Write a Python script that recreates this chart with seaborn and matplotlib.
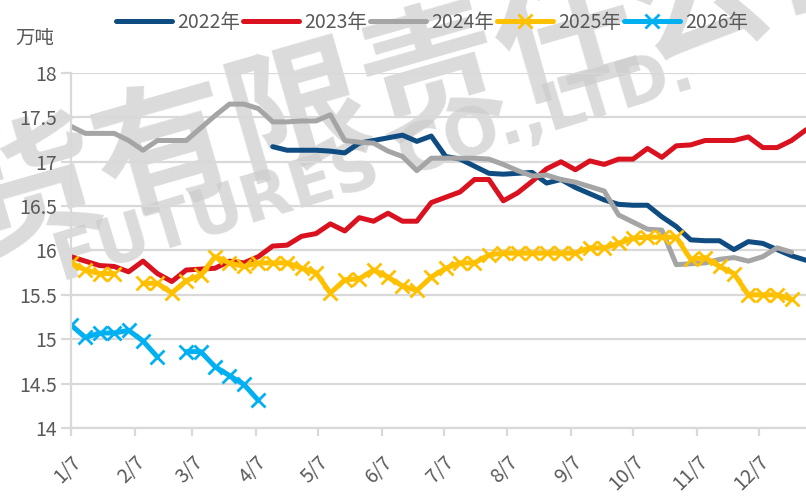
import numpy as np
import pandas as pd
import matplotlib
matplotlib.use("Agg")
import matplotlib.pyplot as plt
import matplotlib.dates as mdates
import seaborn as sns

# weekly observation dates (year used only to lay out the month axis)
week_dates = pd.date_range("2023-01-07", periods=52, freq="7D")

nan = np.nan
y2022 = [nan] * 14 + [
    17.17, 17.13, 17.13, 17.13, 17.12, 17.10, 17.21, 17.24, 17.27, 17.30,
    17.23, 17.29, 17.06, 17.03, 16.95, 16.87, 16.86, 16.87, 16.88, 16.76,
    16.80, 16.71, 16.64, 16.57, 16.52, 16.51, 16.51, 16.38, 16.27, 16.12,
    16.11, 16.11, 16.01, 16.10, 16.08, 16.01, 15.94, 15.89]
y2023 = [
    15.93, 15.88, 15.83, 15.82, 15.76, 15.88, 15.74, 15.65, 15.78, 15.79,
    15.80, 15.88, 15.86, 15.93, 16.05, 16.06, 16.16, 16.19, 16.30, 16.22,
    16.37, 16.33, 16.42, 16.33, 16.33, 16.54, 16.60, 16.66, 16.80, 16.80,
    16.56, 16.65, 16.78, 16.92, 17.00, 16.91, 17.01, 16.97, 17.03, 17.03,
    17.15, 17.05, 17.18, 17.19, 17.24, 17.24, 17.24, 17.28, 17.16, 17.16,
    17.24, 17.36]
y2024 = [
    17.40, 17.32, 17.32, 17.32, 17.24, 17.13, 17.24, 17.24, 17.24, 17.38,
    17.52, 17.65, 17.65, 17.60, 17.45, 17.45, 17.46, 17.46, 17.53, 17.24,
    17.22, 17.21, 17.12, 17.06, 16.90, 17.04, 17.04, 17.04, 17.04, 17.03,
    16.97, 16.90, 16.84, 16.85, 16.80, 16.77, 16.72, 16.67, 16.40, 16.32,
    16.24, 16.23, 15.84, 15.85, 15.86, 15.90, 15.92, 15.88, 15.93, 16.03,
    15.98, nan]
y2025 = [
    15.86, 15.78, 15.74, 15.74, nan, 15.63, 15.63, 15.52, 15.66, 15.72,
    15.93, 15.86, 15.82, 15.86, 15.86, 15.86, 15.80, 15.75, 15.52, 15.67,
    15.68, 15.78, 15.70, 15.60, 15.55, 15.70, 15.80, 15.86, 15.86, 15.95,
    15.97, 15.97, 15.97, 15.97, 15.97, 15.97, 16.03, 16.03, 16.08, 16.14,
    16.15, 16.15, 16.15, 15.90, 15.92, 15.82, 15.74, 15.50, 15.50, 15.50,
    15.45, nan]
y2026 = [15.16, 15.02, 15.07, 15.07, 15.10, 14.98, 14.80, nan, 14.86, 14.86,
         14.69, 14.59, 14.49, 14.31] + [nan] * 38

years = ["2022年", "2023年", "2024年", "2025年", "2026年"]
series = [y2022, y2023, y2024, y2025, y2026]
colors = ["#0F4C81", "#DA111E", "#A5A5A5", "#FFC000", "#00B0F0"]
markers = [None, None, None, "x", "x"]

sns.set_theme(style="white")
plt.rcParams["font.family"] = ["Noto Sans CJK SC", "DejaVu Sans"]

fig = plt.figure(figsize=(8.06, 4.97), dpi=100)
ax = fig.add_axes([0.088, 0.139, 0.912, 0.714])
ax.patch.set_alpha(0)

# faint watermark behind the chart
fig.text(0.455, 0.805, "期货有限责任公司", fontsize=100, fontweight="bold",
         color="#cccccc", alpha=0.7, rotation=16, ha="center", va="center",
         zorder=-1)
fig.text(0.465, 0.665, "FUTURES CO.,LTD.", fontsize=47, fontweight="bold",
         family="DejaVu Sans", color="#cccccc", alpha=0.7, rotation=17,
         ha="center", va="center", zorder=-1)

for name, vals, col, mk in zip(years, series, colors, markers):
    df = pd.DataFrame({"date": week_dates, "value": vals})
    # split on gaps so missing weeks break the line
    ok = df["value"].notna()
    grp = (~ok).cumsum()
    first = True
    for _, seg in df[ok].groupby(grp[ok]):
        sns.lineplot(data=seg, x="date", y="value", ax=ax, color=col,
                     linewidth=3.6, marker=mk, markersize=10, markeredgewidth=2,
                     markeredgecolor=col, label=name if first else None,
                     legend=False, estimator=None, sort=False)
        first = False

ax.set_ylim(14, 18)
ax.set_yticks(np.arange(14, 18.01, 0.5))
ax.set_yticklabels(["14", "14.5", "15", "15.5", "16", "16.5", "17", "17.5", "18"])
ax.set_xlim(week_dates[0], week_dates[-1])
ax.xaxis.set_major_locator(mdates.MonthLocator(bymonthday=7))
ax.xaxis.set_major_formatter(plt.FuncFormatter(
    lambda v, p: f"{mdates.num2date(v).month}/{mdates.num2date(v).day}"))

ax.grid(axis="y", color="#D9D9D9", linewidth=1.6)
ax.grid(axis="x", visible=False)
for s in ["top", "right"]:
    ax.spines[s].set_visible(False)
for s in ["left", "bottom"]:
    ax.spines[s].set_color("#D9D9D9")
    ax.spines[s].set_linewidth(1.6)
ax.tick_params(axis="y", direction="out", length=7, width=1.6, color="#D9D9D9",
               labelsize=14, labelcolor="#595959", pad=3, left=True)
ax.tick_params(axis="x", direction="out", length=6, width=1.6, color="#D9D9D9",
               labelsize=14, labelcolor="#595959", pad=11, bottom=True)
for lab in ax.get_xticklabels():
    lab.set_rotation(45)
    lab.set_ha("right")
    lab.set_rotation_mode("anchor")
ax.set_xlabel("")
ax.set_ylabel("")

fig.text(0.019, 0.923, "万吨", fontsize=14, color="#595959", va="center")

handles, labels = ax.get_legend_handles_labels()
fig.legend(handles, labels, loc="center", bbox_to_anchor=(0.536, 0.955),
           ncol=5, frameon=False, fontsize=14, handlelength=2.9,
           handletextpad=0.25, columnspacing=0.15, borderpad=0,
           labelcolor="#595959")

fig.savefig("out.png", dpi=100)
